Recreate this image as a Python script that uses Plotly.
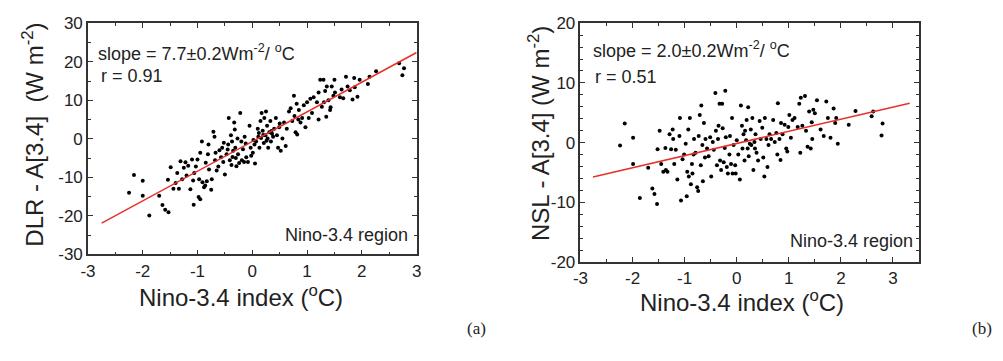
import plotly.graph_objects as go

# ---------------- Data ----------------
# Panel (a): Nino-3.4 index vs DLR - A[3.4]
a_x = [-2.25, -2.16, -2.0, -2.0, -1.88, -1.70, -1.64, -1.59, -1.53, -1.54, -1.49, -1.44, -1.40, -1.37,
       -1.34, -1.31, -1.28, -1.25, -1.22, -1.17, -1.13, -1.10, -1.08, -1.06, -1.07, -1.03, -1.0, -0.97,
       -0.95, -0.98, -0.95, -0.92, -0.91, -0.88, -0.86, -0.83, -0.81, -0.80, -0.79, -0.75, -0.74, -0.71,
       -0.69, -0.68, -0.67, -0.65, -0.62, -0.57, -0.55, -0.53, -0.50, -0.47, -0.44, -0.43, -0.41, -0.39,
       -0.38, -0.37, -0.35, -0.33, -0.32, -0.31, -0.29, -0.27, -0.26, -0.24, -0.22, -0.20, -0.19, -0.17,
       -0.15, -0.14, -0.11, -0.08, -0.05, -0.03, -0.02, 0.01, 0.04, 0.05, 0.07, 0.10, 0.11, 0.13, 0.15,
       0.16, 0.17, 0.19, 0.21, 0.22, 0.24, 0.25, 0.27, 0.28, 0.29, 0.31, 0.33, 0.34, 0.36, 0.38, 0.40,
       0.43, 0.45, 0.47, 0.49, 0.52, 0.55, 0.58, 0.61, 0.63, 0.67, 0.70, 0.73, 0.76, 0.77, 0.79, 0.81,
       0.82, 0.84, 0.85, 0.88, 0.91, 0.94, 0.97, 1.0, 1.03, 1.06, 1.09, 1.12, 1.18, 1.21, 1.21, 1.24,
       1.27, 1.30, 1.31, 1.33, 1.35, 1.36, 1.39, 1.42, 1.43, 1.45, 1.48, 1.50, 1.51, 1.60, 1.63, 1.66,
       1.71, 1.74, 1.78, 1.83, 1.86, 1.87, 1.92, 1.96, 2.11, 2.14, 2.26, 2.68, 2.74, 2.77,
       -0.60, -0.45, -0.30, -0.12, 0.02, 0.20, 0.35, 0.50, -0.85, -1.20, -0.52, 0.26, 0.12, -0.36]
a_y = [-14.0, -9.4, -10.9, -14.8, -19.9, -14.8, -17.2, -18.4, -19.1, -10.6, -7.4, -13.0, -11.5, -8.9,
       -13.0, -5.8, -10.5, -7.5, -6.1, -7.0, -13.1, -5.4, -10.8, -8.9, -17.1, -7.2, -5.4, -10.5,
       -3.6, -15.1, -15.7, -0.7, -11.3, -12.6, -12.1, -11.0, -4.0, -1.5, -8.0, -13.2, -10.5, 1.8,
       0.5, -5.6, -3.6, -8.2, -7.2, -4.8, -2.3, -6.0, -9.3, -4.0, -1.5, 5.4, -5.6, 0.9,
       -6.8, -0.7, -3.1, 4.2, 2.4, -2.3, -7.1, 0.1, -4.0, -6.3, 6.7, -0.7, -5.6, -2.7,
       -6.0, 0.5, -4.8, -6.0, 3.4, -2.3, -4.4, -3.6, -1.5, -6.4, -0.7, 2.6, 0.5, -2.3, 4.6,
       0.2, 6.7, 2.1, -1.1, 5.4, 0.9, 7.1, 3.4, 0.1, -2.3, 1.7, 4.6, -0.7, 1.3, 0.5, 2.6,
       5.4, 0.9, -2.3, 3.0, -3.1, 0.1, 4.2, -1.9, 2.6, 7.1, 7.9, 4.6, 11.2, 5.9, 1.7, 9.1,
       1.1, 5.0, 7.5, 4.2, 5.4, 8.7, 3.0, 9.5, 5.4, 10.4, 6.7, 10.8, 9.5, 5.0, 12.0, 15.3,
       8.3, 15.3, 9.5, 12.4, 5.7, 13.6, 10.0, 7.5, 8.2, 13.6, 11.2, 15.3, 12.0, 10.8, 12.8, 10.5,
       16.1, 13.6, 12.6, 10.2, 15.8, 13.4, 10.9, 15.3, 14.2, 16.1, 17.5, 19.6, 16.5, 18.3,
       -3.0, -2.8, -5.0, -1.2, -0.3, 1.0, 2.0, 4.0, -6.2, -9.5, -1.0, -0.5, 1.5, -4.7]
a_slope, a_intercept = 7.7, -0.7
a_line_x = [-2.75, 3.0]

# Panel (b): Nino-3.4 index vs NSL - A[3.4]
b_x = [-2.24, -2.15, -1.99, -1.99, -1.86, -1.70, -1.62, -1.58, -1.53, -1.52, -1.48, -1.45, -1.41, -1.37,
       -1.36, -1.33, -1.29, -1.26, -1.23, -1.22, -1.20, -1.17, -1.14, -1.10, -1.09, -1.07, -1.04, -1.01,
       -0.98, -0.96, -0.95, -0.93, -0.92, -0.90, -0.88, -0.86, -0.85, -0.83, -0.82, -0.79, -0.76, -0.74,
       -0.73, -0.71, -0.69, -0.68, -0.66, -0.65, -0.63, -0.61, -0.60, -0.57, -0.54, -0.51, -0.49, -0.46,
       -0.44, -0.41, -0.40, -0.38, -0.36, -0.35, -0.33, -0.32, -0.30, -0.28, -0.27, -0.25, -0.23, -0.22,
       -0.21, -0.19, -0.17, -0.14, -0.13, -0.11, -0.09, -0.08, -0.06, -0.03, -0.02, 0.0, 0.03, 0.06,
       0.08, 0.10, 0.11, 0.13, 0.15, 0.16, 0.18, 0.19, 0.21, 0.22, 0.23, 0.25, 0.27, 0.28, 0.30, 0.32,
       0.34, 0.35, 0.36, 0.38, 0.41, 0.44, 0.46, 0.49, 0.51, 0.53, 0.54, 0.57, 0.59, 0.61, 0.63, 0.66,
       0.70, 0.73, 0.76, 0.78, 0.79, 0.82, 0.84, 0.85, 0.88, 0.92, 0.95, 0.97, 0.99, 1.01, 1.04, 1.07,
       1.11, 1.17, 1.20, 1.22, 1.23, 1.26, 1.31, 1.33, 1.36, 1.39, 1.42, 1.44, 1.45, 1.47, 1.50, 1.54,
       1.61, 1.67, 1.72, 1.75, 1.80, 1.86, 1.89, 1.91, 1.94, 2.15, 2.28, 2.59, 2.62, 2.78, 2.80]
b_y = [-0.5, 3.2, 0.8, -3.6, -9.3, -4.2, -7.7, -8.6, -10.3, -1.1, 2.0, -3.6, -4.9, -0.9,
       -4.6, -4.9, 1.4, -1.1, 2.2, 0.6, -3.6, -1.2, -6.2, 1.1, 4.1, -9.7, -2.8, -2.0,
       -0.2, -9.0, -4.9, 2.2, -5.7, 4.1, -7.0, -3.6, -5.2, -2.0, 0.6, -1.7, -7.5, -8.1,
       1.1, 4.6, -3.8, 6.2, -0.4, -6.5, 3.3, -2.5, 0.6, -1.0, -2.3, 0.9, -5.7, 0.1,
       -1.2, 8.3, 2.0, -3.8, 0.6, 2.8, 6.5, -3.0, -4.6, 6.5, 2.4, -3.3, -0.9, 8.7,
       0.9, -4.1, -5.2, -2.0, 1.1, -3.6, 4.1, -5.2, -0.4, -3.8, -5.2, 0.4, -2.0, -6.2,
       6.2, 2.8, -1.0, 1.4, -3.0, 2.0, 0.4, 3.8, -1.0, 5.9, -2.3, -0.2, 2.2, -0.4, 4.1, -4.6,
       0.1, -1.0, 1.4, -1.7, -3.0, 3.6, 0.6, 2.5, -2.5, -5.7, 4.1, 0.6, -4.1, -0.4, 1.4, 0.6,
       3.8, 0.1, 1.6, -2.0, 6.6, 0.6, -2.9, 3.3, 1.4, 3.0, -1.0, -1.5, 2.6, 4.6, 0.8, 3.8,
       4.1, 2.6, 6.5, -1.7, 7.5, 2.8, 7.8, 2.0, -0.7, 5.2, -1.0, 3.4, 0.6, 5.5, 4.9, 7.1,
       2.2, 1.1, 6.9, 4.1, 0.8, 5.7, 3.3, 4.1, -0.2, 3.0, 5.3, 4.4, 5.2, 1.2, 3.2]
b_slope, b_intercept = 2.03, -0.15
b_line_x = [-2.76, 3.32]

x_tickvals = [-3, -2, -1, 0, 1, 2, 3]
a_ytickvals = [-30, -20, -10, 0, 10, 20, 30]
b_ytickvals = [-20, -10, 0, 10, 20]

# ---------------- Figure ----------------
FONT = "Liberation Sans, Arial, sans-serif"
AX = "#333333"
TXT = "#222222"
fig = go.Figure()

fig.add_trace(go.Scatter(x=a_x, y=a_y, mode="markers", xaxis="x", yaxis="y",
                         marker=dict(size=4, color="black"), showlegend=False))
fig.add_trace(go.Scatter(x=a_line_x, y=[a_slope * v + a_intercept for v in a_line_x], mode="lines",
                         xaxis="x", yaxis="y", line=dict(color="#e8302a", width=1.5), showlegend=False))
fig.add_trace(go.Scatter(x=b_x, y=b_y, mode="markers", xaxis="x2", yaxis="y2",
                         marker=dict(size=4, color="black"), showlegend=False))
fig.add_trace(go.Scatter(x=b_line_x, y=[b_slope * v + b_intercept for v in b_line_x], mode="lines",
                         xaxis="x2", yaxis="y2", line=dict(color="#e8302a", width=1.5), showlegend=False))

common = dict(showline=True, linecolor=AX, linewidth=1.5, mirror="ticks", ticks="inside",
              ticklen=5, tickwidth=1, tickcolor=AX, showgrid=False, zeroline=False,
              tickfont=dict(family=FONT, size=17, color=TXT),
              minor=dict(ticks="inside", ticklen=3, tickcolor=AX, showgrid=False))


def labels(vals):
    return [str(v) for v in vals]


fig.update_layout(
    width=1003, height=361, margin=dict(l=0, r=0, t=0, b=0),
    paper_bgcolor="white", plot_bgcolor="white",
    xaxis=dict(domain=[81/1003, 414/1003], range=[-3, 3], tickvals=x_tickvals,
               ticktext=labels(x_tickvals), anchor="y", **common),
    yaxis=dict(domain=[1-259/361, 1-15/361], range=[-30, 30], tickvals=a_ytickvals,
               ticktext=labels(a_ytickvals), anchor="x", **common),
    xaxis2=dict(domain=[580/1003, 923/1003], range=[-3, 3.5], tickvals=x_tickvals,
                ticktext=labels(x_tickvals), anchor="y2", **common),
    yaxis2=dict(domain=[1-267/361, 1-15/361], range=[-20, 20], tickvals=b_ytickvals,
                ticktext=labels(b_ytickvals), anchor="x2", **common),
)

title_font = dict(family=FONT, size=24, color=TXT)
# axis titles (placed as in the reference, the right y-title overlaps the "20" label)
fig.add_annotation(xref="paper", yref="paper", x=236/1003, y=1-303/361, xanchor="center", yanchor="middle",
                   text="Nino-3.4 index (<sup>o</sup>C)", showarrow=False, font=title_font)
fig.add_annotation(xref="paper", yref="paper", x=744/1003, y=1-308/361, xanchor="center", yanchor="middle",
                   text="Nino-3.4 index (<sup>o</sup>C)", showarrow=False, font=title_font)
fig.add_annotation(xref="paper", yref="paper", x=25/1003, y=1-133/361, xanchor="center", yanchor="middle",
                   text="DLR - A[3.4]  (W m<sup>-2</sup>)", textangle=-90, showarrow=False, font=title_font)
fig.add_annotation(xref="paper", yref="paper", x=538/1003, y=1-132/361, xanchor="center", yanchor="middle",
                   text="NSL - A[3.4] (W m<sup>-2</sup>)", textangle=-90, showarrow=False, font=title_font)

ann_font = dict(family=FONT, size=18, color=TXT)
fig.add_annotation(xref="x domain", yref="y domain", x=0.024, y=0.873, xanchor="left", yanchor="middle",
                   text="slope = 7.7\u00b10.2Wm<sup>-2</sup>/ <sup>o</sup>C", showarrow=False, font=ann_font)
fig.add_annotation(xref="x domain", yref="y domain", x=0.033, y=0.77, xanchor="left", yanchor="middle",
                   text="r = 0.91", showarrow=False, font=ann_font)
fig.add_annotation(xref="x domain", yref="y domain", x=0.979, y=0.082, xanchor="right", yanchor="middle",
                   text="Nino-3.4 region", showarrow=False, font=ann_font)
fig.add_annotation(xref="x2 domain", yref="y2 domain", x=0.032, y=0.889, xanchor="left", yanchor="middle",
                   text="slope = 2.0\u00b10.2Wm<sup>-2</sup>/ <sup>o</sup>C", showarrow=False, font=ann_font)
fig.add_annotation(xref="x2 domain", yref="y2 domain", x=0.038, y=0.774, xanchor="left", yanchor="middle",
                   text="r = 0.51", showarrow=False, font=ann_font)
fig.add_annotation(xref="x2 domain", yref="y2 domain", x=0.988, y=0.087, xanchor="right", yanchor="middle",
                   text="Nino-3.4 region", showarrow=False, font=ann_font)

serif = dict(family="Liberation Serif, Times New Roman, serif", size=17, color=TXT)
fig.add_annotation(xref="paper", yref="paper", x=475/1003, y=1-337/361, xanchor="center", yanchor="middle",
                   text="(a)", showarrow=False, font=serif)
fig.add_annotation(xref="paper", yref="paper", x=987/1003, y=1-337/361, xanchor="center", yanchor="middle",
                   text="(b)", showarrow=False, font=serif)

fig.write_html("out.html")
